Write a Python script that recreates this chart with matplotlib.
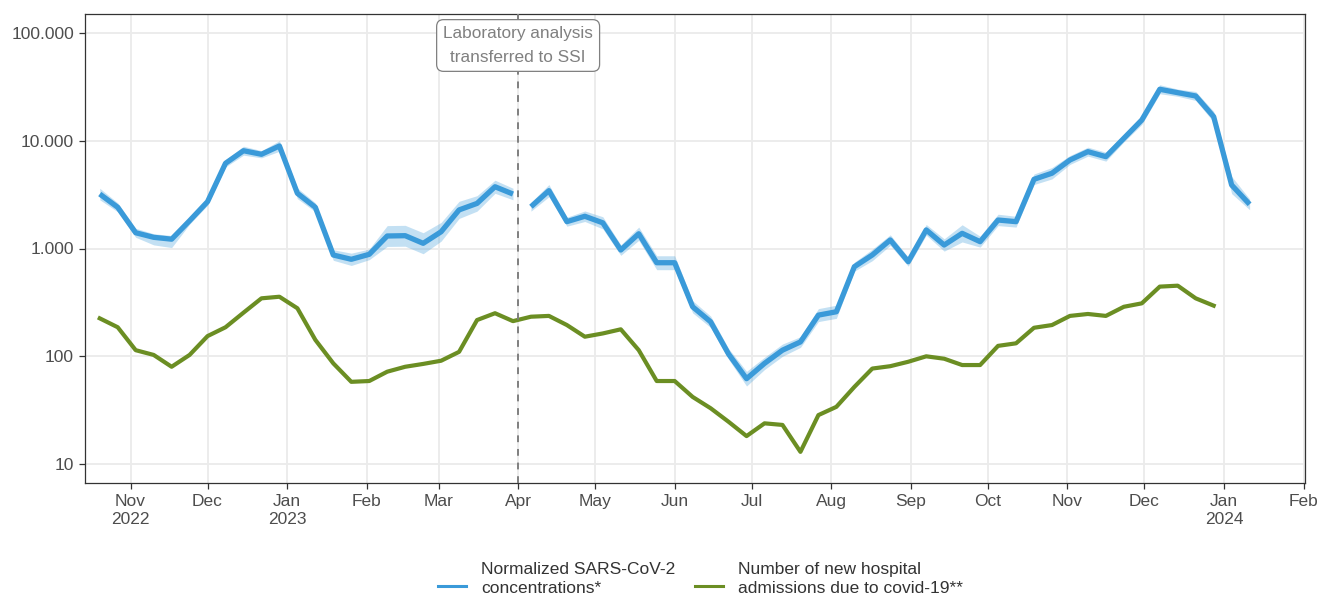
import matplotlib
matplotlib.use("Agg")
import matplotlib.pyplot as plt
from matplotlib.lines import Line2D
import pandas as pd

# ---------------- data ----------------
week_dates = pd.date_range("2022-10-20", periods=65, freq="7D")

sars_conc = [3200, 2410, 1400, 1270, 1220, 1810, 2720, 6170, 8070, 7480,
             8930, 3250, 2410, 870, 794, 883, 1306, 1315, 1117, 1430,
             2280, 2620, 3740, 3200, 2440, 3440, 1775, 1990, 1730, 968,
             1370, 738, 738, 288, 209, 105, 62, 86, 114, 136,
             241, 259, 678, 871, 1200, 755, 1487, 1077, 1383, 1157,
             1837, 1774, 4385, 4990, 6620, 7910, 7110, 10520, 15560, 29980,
             27880, 25980, 16700, 3880, 2570]

sars_lo = [2830, 2190, 1270, 1080, 1020, 1680, 2520, 5710, 7340, 6930,
           7970, 2900, 2190, 777, 696, 788, 1045, 1050, 894, 1170,
           1900, 2220, 3250, 2830, 2220, 3020, 1610, 1780, 1520, 864,
           1190, 636, 636, 253, 185, 94, 53, 75.4, 100, 121,
           210, 225, 616, 771, 1070, 686, 1330, 945, 1150, 1030,
           1630, 1580, 3920, 4420, 6020, 7190, 6460, 9740, 14150, 27250,
           25800, 23600, 14900, 3230, 2290]

sars_hi = [3620, 2650, 1540, 1370, 1320, 1950, 2940, 6660, 8880, 8080,
           10000, 3640, 2650, 974, 905, 989, 1630, 1640, 1400, 1745,
           2740, 3090, 4300, 3620, 2680, 3920, 1950, 2230, 1970, 1080,
           1580, 856, 856, 328, 236, 118, 72.5, 98, 130, 152,
           277, 298, 746, 984, 1340, 830, 1670, 1230, 1660, 1300,
           2080, 1990, 4910, 5640, 7280, 8700, 7820, 11360, 17100, 33000,
           30100, 28600, 18700, 4660, 2880]

admissions = [225, 186, 114, 103, 80, 103, 154, 186, 254, 345,
              357, 279, 142, 86, 58, 59, 72, 80, 85, 91,
              110, 217, 251, 212, 233, 237, 195, 152, 163, 178,
              114, 59, 59, 42, 33, 24.7, 18.2, 23.9, 23.1, 13,
              28.5, 34, 52, 77, 81, 89, 100, 95, 83, 83,
              125, 132, 184, 195, 237, 247, 237, 288, 310, 443,
              452, 345, 295]

transfer_date = pd.Timestamp("2023-04-01")
split_idx = 24  # first week analysed at SSI

month_ticks = pd.date_range("2022-11-01", "2024-02-01", freq="MS")
month_labels = ["Nov\n2022", "Dec", "Jan\n2023", "Feb", "Mar", "Apr", "May",
                "Jun", "Jul", "Aug", "Sep", "Oct", "Nov", "Dec", "Jan\n2024", "Feb"]

y_ticks = [10, 100, 1000, 10000, 100000]
y_labels = ["10", "100", "1.000", "10.000", "100.000"]

legend_labels = ["Normalized SARS-CoV-2\nconcentrations*",
                 "Number of new hospital\nadmissions due to covid-19**"]
annotation = "Laboratory analysis\ntransferred to SSI"

# ---------------- style ----------------
plt.rcParams["font.family"] = ["Liberation Sans", "DejaVu Sans"]
BLUE = "#3A9AD9"
GREEN = "#6B8E23"
GRID = "#EBEBEB"
TXT = "#4D4D4D"
W, H = 1320, 602

fig = plt.figure(figsize=(W / 100, H / 100), dpi=100)
ax = fig.add_axes([85 / W, 1 - 483 / H, (1305 - 85) / W, (483 - 14) / H])

ax.set_yscale("log")
ax.set_ylim(10 ** 0.825, 10 ** 5.175)
ax.set_xlim(pd.Timestamp("2022-10-14 06:00"), pd.Timestamp("2024-02-01 14:00"))

ax.set_yticks(y_ticks)
ax.set_yticklabels(y_labels)
ax.yaxis.set_minor_locator(matplotlib.ticker.NullLocator())
ax.set_xticks(month_ticks)
ax.set_xticklabels(month_labels)
ax.grid(True, which="major", color=GRID, linewidth=1.3, zorder=0)
ax.set_axisbelow(True)

for s in ax.spines.values():
    s.set_color("#333333")
    s.set_linewidth(0.9)

ax.tick_params(axis="both", which="major", length=4, width=0.9, color="#333333",
               labelcolor=TXT, labelsize=12.5, pad=4)

# series
for a, b in [(0, split_idx), (split_idx, len(sars_conc))]:
    d = week_dates[a:b]
    ax.fill_between(d, sars_lo[a:b], sars_hi[a:b], color=BLUE, alpha=0.3,
                    linewidth=0, zorder=2)
    ax.plot(d, sars_conc[a:b], color=BLUE, linewidth=3.8, solid_capstyle="butt",
            zorder=3)

ax.plot(week_dates[:len(admissions)], admissions, color=GREEN, linewidth=3.0,
        zorder=3)

# transfer line + label
ax.axvline(transfer_date, color="#808080", linestyle=(0, (3.5, 3.5)), linewidth=1.4,
           zorder=4)
ax.text(transfer_date, (483 - 45.5) / 469, annotation, transform=ax.get_xaxis_transform(),
        ha="center", va="center", fontsize=12.4, color="#808080", linespacing=1.72,
        bbox=dict(boxstyle="round,pad=0.38,rounding_size=0.4", facecolor="white",
                  edgecolor="#808080", linewidth=0.9), zorder=5)

# legend (drawn in figure pixel coordinates)
def fx(px):
    return px / W

def fy(py):
    return 1 - py / H

keys = [(438, 466, 481, BLUE), (695, 723, 738, GREEN)]
for (k0, k1, tx, col), lab in zip(keys, legend_labels):
    fig.add_artist(Line2D([fx(k0), fx(k1)], [fy(586), fy(586)], color=col,
                          linewidth=2.2, transform=fig.transFigure))
    fig.text(fx(tx), fy(579), lab, ha="left", va="center", fontsize=12.5,
             color="#333333", linespacing=1.32)

fig.savefig("out.png", dpi=100)
